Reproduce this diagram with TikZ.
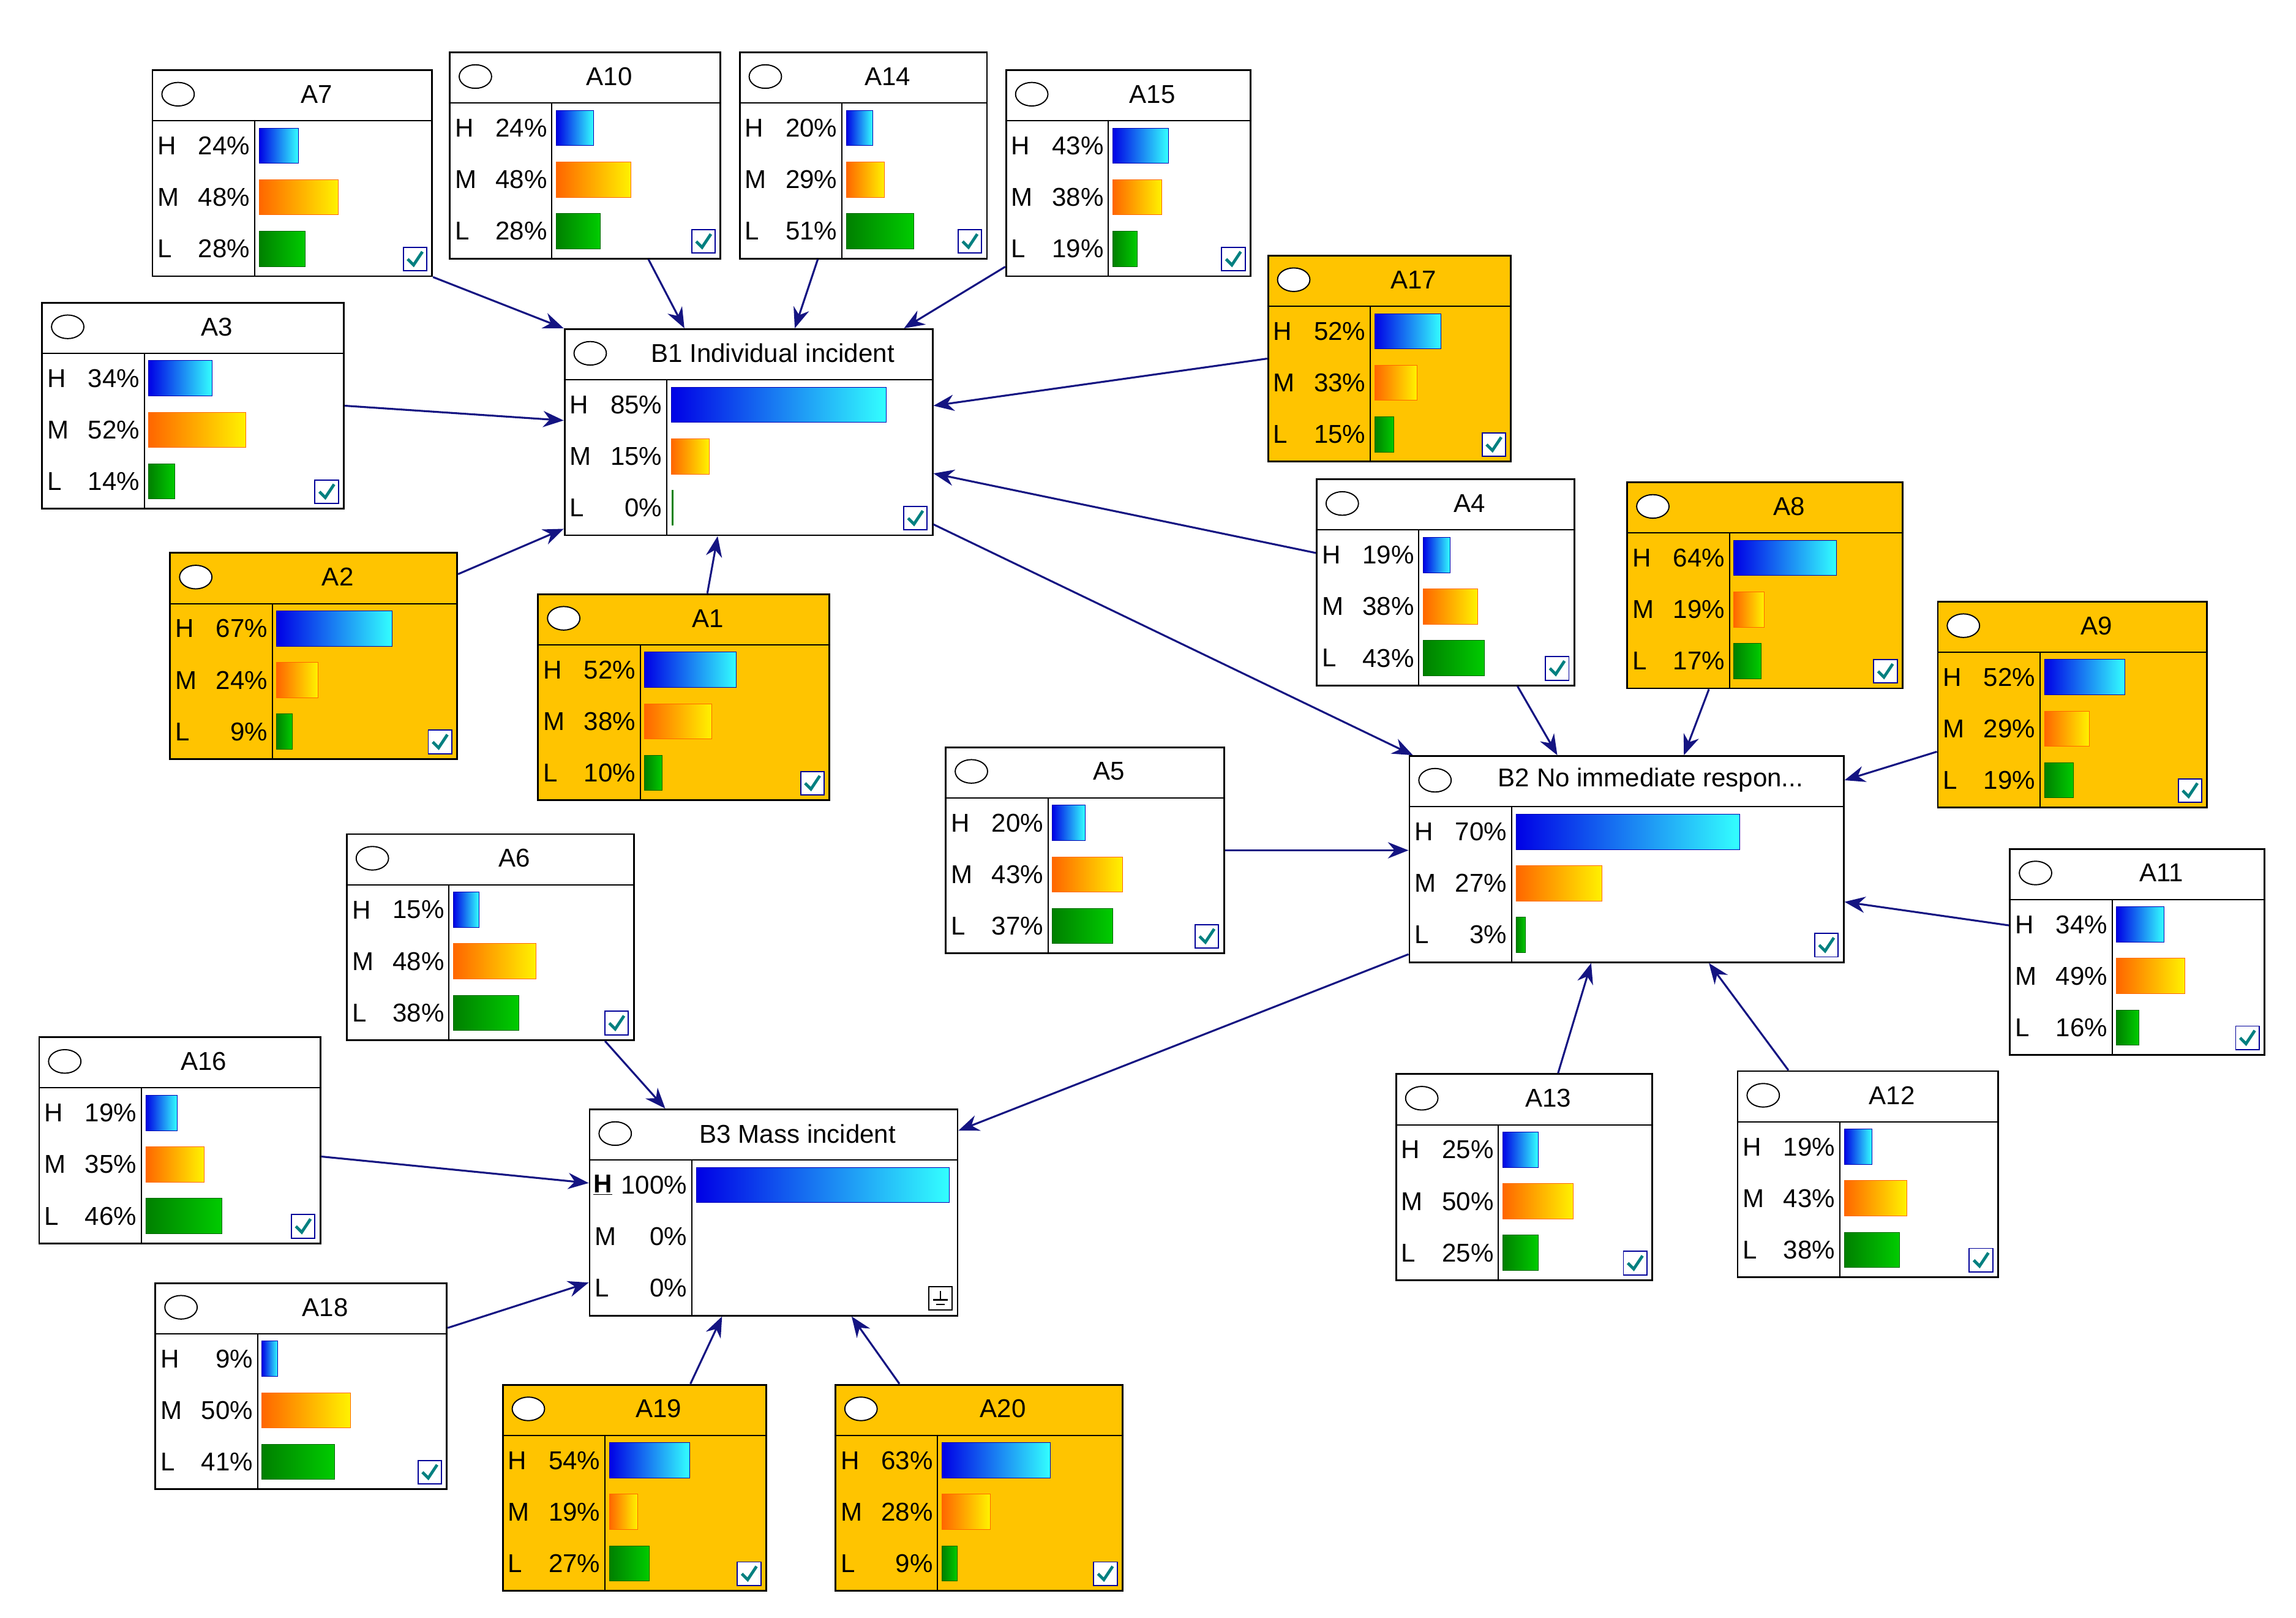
\documentclass[tikz,border=0pt]{standalone}
\usepackage{fontspec}
\setmainfont{Liberation Sans}
\usetikzlibrary{arrows.meta}
\definecolor{navy}{RGB}{20,20,130}
\definecolor{bnorange}{RGB}{255,196,0}
\definecolor{chk}{RGB}{0,128,128}
\tikzset{
  bnbox/.style={draw=black,line width=1.2pt,inner sep=0pt},
  bnline/.style={draw=black,line width=0.8pt},
  bntext/.style={inner sep=0pt,font=\fontsize{17.5}{21}\selectfont},
  bnH/.style={left color=blue!90!black,right color=cyan!80!white,draw=blue!70!black},
  bnM/.style={left color=orange!80!red,right color=yellow!90!orange,draw=orange!80!red},
  bnL/.style={left color=green!50!black,right color=green!80!black,draw=green!40!black},
  link/.style={draw=navy,line width=1.3pt,-{Stealth[length=14pt,width=11pt]}}
}
% one row of a node: x, y, letter, percent, style
\newcommand\bnrow[5]{%
  \node[bntext,anchor=west] at (#1+4,#2) {#3};
  \node[bntext,anchor=east] at (#1+67,#2) {#4\%};
  \ifdim #4pt>0pt \shade[#5] (#1+73,#2-12) rectangle ++(#4*\bnscale,24);\fi
}
% name, x, y, width, title, H, M, L, fill
\newcommand\bnode[9]{%
  \node[bnbox,fill=#9,minimum width=#4pt,minimum height=140pt,anchor=north west] (#1) at (#2,#3) {};
  \draw[bnline] (#2,#3+35) -- (#2+#4,#3+35);
  \draw[bnline] (#2+70,#3+35) -- (#2+70,#3+140);
  \draw[bnline,fill=white] (#2+18,#3+17) ellipse (11pt and 8pt);
  \node[bntext] at (#2+#4/2+17,#3+17) {#5};
  \pgfmathsetmacro\bnscale{(#4-78)/100}
  \bnrow{#2}{#3+52}{H}{#6}{bnH}
  \bnrow{#2}{#3+87}{M}{#7}{bnM}
  \bnrow{#2}{#3+122}{L}{#8}{bnL}
  \draw[draw=blue!60!black,fill=white,line width=0.8pt] (#2+#4-19,#3+137) rectangle ++(16,-16);
  \draw[chk,line width=2pt] (#2+#4-16,#3+129) -- (#2+#4-12,#3+133) -- (#2+#4-6,#3+124);
}
\begin{document}
\begin{tikzpicture}[x=1pt,y=-1pt]
\useasboundingbox[fill=white] (0,0) rectangle (1560,1099);
\bnode{A7}{103}{47}{190}{A7}{24}{48}{28}{white}
\bnode{A10}{305}{35}{184}{A10}{24}{48}{28}{white}
\bnode{A14}{502}{35}{168}{A14}{20}{29}{51}{white}
\bnode{A15}{683}{47}{166}{A15}{43}{38}{19}{white}
\bnode{A17}{861}{173}{165}{A17}{52}{33}{15}{bnorange}
\bnode{A3}{28}{205}{205}{A3}{34}{52}{14}{white}
\bnode{B1}{383}{223}{250}{B1 Individual incident}{85}{15}{0}{white}
\bnode{A2}{115}{375}{195}{A2}{67}{24}{9}{bnorange}
\bnode{A1}{365}{403}{198}{A1}{52}{38}{10}{bnorange}
\bnode{A4}{894}{325}{175}{A4}{19}{38}{43}{white}
\bnode{A8}{1105}{327}{187}{A8}{64}{19}{17}{bnorange}
\bnode{A9}{1316}{408}{183}{A9}{52}{29}{19}{bnorange}
\bnode{A5}{642}{507}{189}{A5}{20}{43}{37}{white}
\bnode{B2}{957}{513}{295}{B2 No immediate respon...}{70}{27}{3}{white}
\bnode{A6}{235}{566}{195}{A6}{15}{48}{38}{white}
\bnode{A11}{1365}{576}{173}{A11}{34}{49}{16}{white}
\bnode{A16}{26}{704}{191}{A16}{19}{35}{46}{white}
\bnode{B3}{400}{753}{250}{B3 Mass incident}{100}{0}{0}{white}
\bnode{A13}{948}{729}{174}{A13}{25}{50}{25}{white}
\bnode{A12}{1180}{727}{177}{A12}{19}{43}{38}{white}
\bnode{A18}{105}{871}{198}{A18}{9}{50}{41}{white}
\bnode{A19}{341}{940}{179}{A19}{54}{19}{27}{bnorange}
\bnode{A20}{567}{940}{195}{A20}{63}{28}{9}{bnorange}
% B3 evidence marks
\fill[white] (402,793) rectangle (418,815);
\node[bntext,anchor=west,font=\fontsize{17.5}{21}\selectfont\bfseries] at (403,805) {\underline{H}};
\draw[draw=black,fill=white,line width=0.8pt] (631,890) rectangle ++(16,-16);
\draw[line width=1pt] (639,877) -- (639,883) (634,883) -- (644,883) (636,886) -- (642,886);
\draw[green!50!black,line width=1.2pt] (457,333) -- (457,357);
% links
\draw[link] (A7.south east) -- (B1.north west);
\draw[link] ([xshift=43]A10.south) -- ([xshift=82]B1.north west);
\draw[link] ([xshift=-31]A14.south) -- ([xshift=157]B1.north west);
\draw[link] ([yshift=7]A15.south west) -- ([xshift=-20]B1.north east);
\draw[link] (A3.east) -- ([yshift=8]B1.west);
\draw[link] (A17.west) -- ([yshift=18]B1.east);
\draw[link] ([yshift=-15]A2.north east) -- ([yshift=5]B1.south west);
\draw[link] ([xshift=16]A1.north) -- ([xshift=-21]B1.south);
\draw[link] ([yshift=20]A4.west) -- ([yshift=-28]B1.east);
\draw[link] ([yshift=8]B1.south east) -- ([xshift=3]B2.north west);
\draw[link] ([xshift=49]A4.south) -- ([xshift=-47]B2.north);
\draw[link] ([xshift=-38]A8.south) -- ([xshift=39]B2.north);
\draw[link] ([yshift=-32]A9.west) -- ([yshift=-17]B2.north east);
\draw[link] (A5.east) -- (A5.east -| B2.west);
\draw[link] ([yshift=18]A11.west) -- ([yshift=-29]B2.east);
\draw[link] ([xshift=23]A13.north) -- ([xshift=-24]B2.south);
\draw[link] ([xshift=-54]A12.north) -- ([xshift=56]B2.south);
\draw[link] ([yshift=6]B2.south west) -- ([yshift=-15]B3.north east);
\draw[link] ([xshift=78]A6.south) -- ([xshift=52]B3.north west);
\draw[link] ([yshift=-11]A16.east) -- ([yshift=20]B3.west);
\draw[link] ([yshift=-31]A18.north east) -- ([yshift=23]B3.south west);
\draw[link] ([xshift=38]A19.north) -- ([xshift=-35]B3.south);
\draw[link] ([xshift=-54]A20.north) -- ([xshift=53]B3.south);
\end{tikzpicture}
\end{document}
